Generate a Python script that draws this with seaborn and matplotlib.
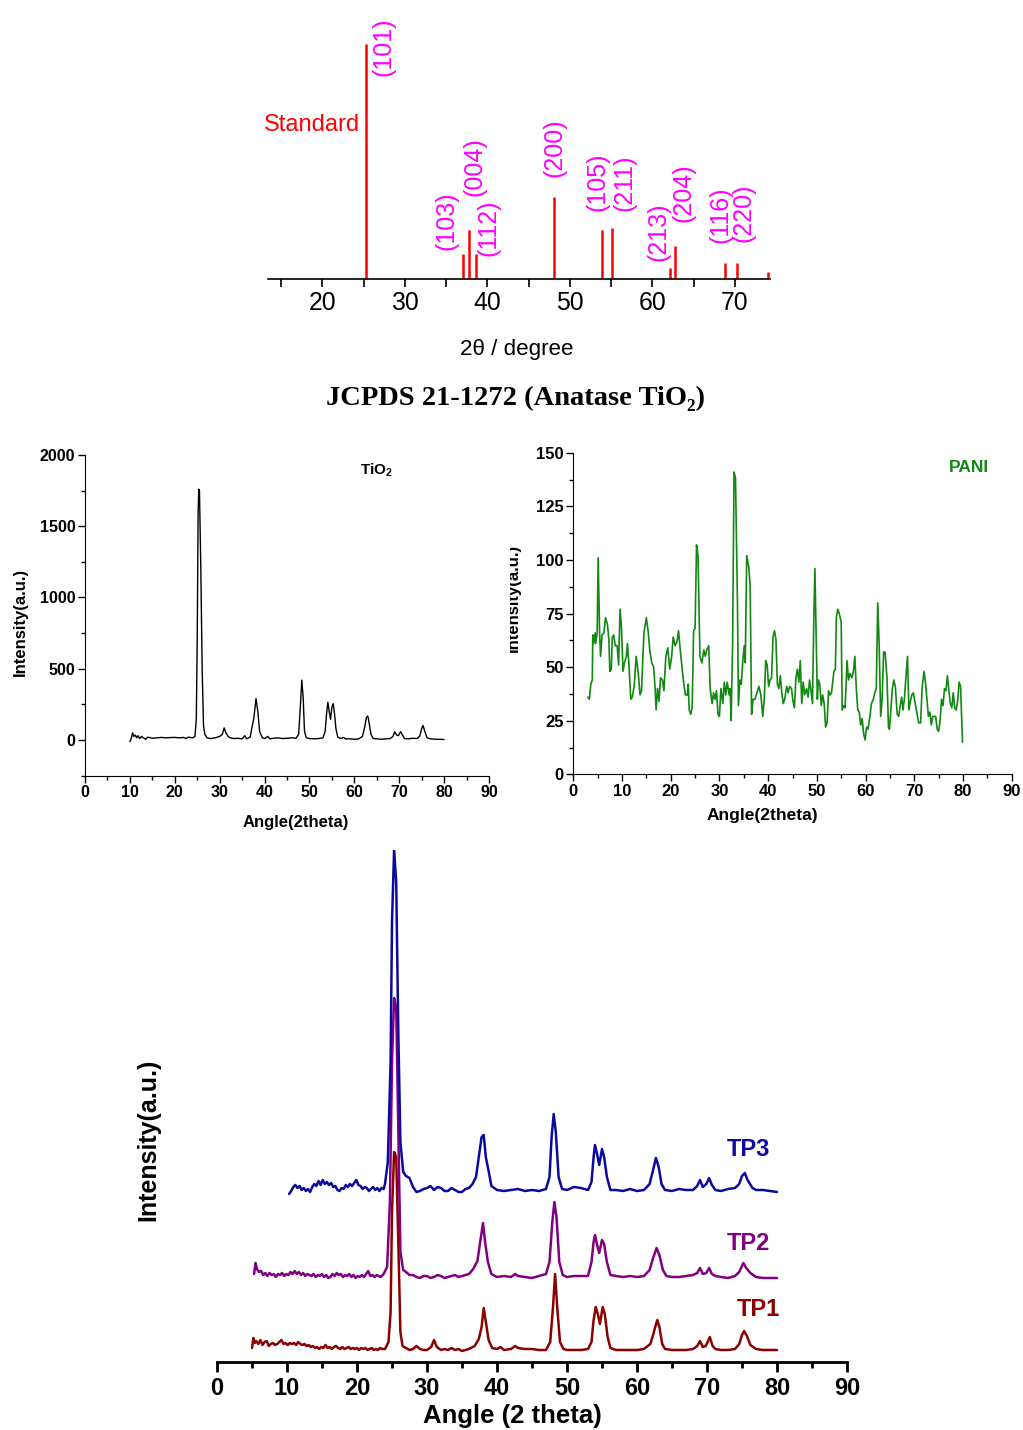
import matplotlib
matplotlib.use("Agg")
import matplotlib.pyplot as plt
import seaborn as sns
import pandas as pd
from matplotlib.ticker import MultipleLocator
from matplotlib.patches import Rectangle
from matplotlib import font_manager

# ---------------- data ----------------
std_angle = [25.3, 37.0, 37.8, 38.6, 48.05, 53.9, 55.1, 62.1, 62.7, 68.8, 70.3, 74.0]
std_int = [100, 10.6, 21, 10.5, 35, 21, 21.5, 4.7, 14, 7, 7, 3]
hkl_labels = ["(101)", "(103)", "(004)", "(112)", "(200)", "(105)", "(211)",
              "(213)", "(204)", "(116)", "(220)"]
hkl_x = [27.4, 35.1, 38.5, 40.1, 48.1, 53.4, 56.6, 60.7, 63.8, 68.3, 71.0]
hkl_y = [99, 25, 47.7, 21.7, 55.7, 41.3, 40.9, 20, 36.6, 27.2, 28.1]

tio2_points = [(10.0, -12), (10.3, 10), (10.6, 50), (10.9, 25), (11.2, 35), (11.5, 15), (11.8, 30),
               (12.2, 10), (12.6, 25), (13.0, 15), (13.5, 5), (14, 20), (15, 12), (16, 15), (17, 18),
               (18, 15), (19, 17), (20, 18), (21, 15), (22, 18), (22.5, 10), (23, 20), (24, 15),
               (24.5, 25), (24.8, 150), (25.0, 700), (25.2, 1600), (25.35, 1760), (25.5, 1750),
               (25.8, 1200), (26.1, 500), (26.4, 100), (26.7, 40), (27.2, 15), (28, 10), (29, 15),
               (30, 25), (30.6, 40), (31.0, 85), (31.4, 50), (32, 20), (33, 10), (34, 12), (35, 8),
               (35.6, 30), (36, 8), (36.8, 20), (37.2, 90), (37.6, 150), (38.1, 290), (38.5, 200),
               (38.9, 60), (39.5, 15), (40, 10), (40.7, 25), (41.2, 8), (42, 12), (43, 15), (44, 10),
               (45, 12), (46, 15), (47, 12), (47.6, 40), (48.0, 250), (48.3, 420), (48.6, 300),
               (48.9, 60), (49.3, 15), (50, 10), (51, 8), (52, 10), (53, 15), (53.5, 60), (53.8, 180),
               (54.1, 265), (54.4, 200), (54.7, 145), (55.0, 230), (55.3, 255), (55.6, 180),
               (55.9, 80), (56.3, 20), (57, 10), (57.6, 18), (58, 8), (59, 8), (60, 5), (61, 8),
               (61.8, 25), (62.3, 90), (62.7, 160), (63.0, 168), (63.3, 120), (63.7, 40), (64.2, 10),
               (65, 8), (66, 5), (67, 8), (68, 10), (68.6, 25), (69.0, 58), (69.4, 35), (69.8, 30),
               (70.3, 58), (70.7, 35), (71.2, 10), (72, 8), (73, 12), (74, 10), (74.6, 30), (75.0, 80),
               (75.3, 102), (75.7, 60), (76.2, 15), (77, 8), (78, 5), (79, 5), (80, 3)]

pani_points = [(3.0, 36), (3.3, 35), (3.6, 42), (3.9, 44), (4.0, 65), (4.2, 61), (4.5, 66), (4.6, 61),
               (4.9, 66), (5.1, 101), (5.4, 66), (5.6, 55), (5.9, 65), (6.3, 66), (6.6, 73), (7.0, 70),
               (7.3, 63), (7.5, 48), (7.8, 49), (8.0, 64), (8.3, 65), (8.6, 60), (9.0, 60), (9.3, 51),
               (9.6, 77), (9.9, 68), (10.2, 48), (10.5, 52), (10.9, 55), (11.1, 61), (11.4, 52),
               (11.8, 35), (12.1, 36), (12.5, 41), (12.9, 55), (13.3, 48), (13.7, 37), (14.0, 39),
               (14.5, 66), (15.0, 73), (15.4, 66), (15.7, 58), (16.1, 52), (16.5, 50), (16.8, 40),
               (17.0, 30), (17.3, 40), (17.6, 34), (17.9, 45), (18.3, 44), (18.6, 39), (19.0, 55),
               (19.4, 59), (19.8, 49), (20.2, 55), (20.5, 64), (20.9, 60), (21.3, 62), (21.6, 67),
               (22.0, 57), (22.4, 48), (22.7, 42), (23.0, 37), (23.4, 37), (23.6, 42), (23.8, 30),
               (24.1, 28), (24.4, 31), (24.7, 67), (25.0, 68), (25.3, 107), (25.6, 102), (26.0, 55),
               (26.4, 52), (26.8, 58), (27.1, 55), (27.4, 58), (27.8, 60), (28.1, 40), (28.5, 33),
               (28.8, 38), (29.1, 35), (29.4, 39), (29.7, 28), (30.0, 27), (30.3, 40), (30.7, 33),
               (31.0, 43), (31.3, 37), (31.6, 43), (32.0, 37), (32.2, 40), (32.4, 25), (32.7, 60),
               (33.0, 141), (33.3, 138), (33.7, 80), (33.9, 32), (34.2, 44), (34.5, 42), (34.8, 53),
               (35.1, 60), (35.3, 52), (35.6, 102), (36.0, 97), (36.3, 88), (36.6, 28), (36.9, 35),
               (37.3, 35), (37.7, 38), (38.1, 41), (38.5, 37), (38.9, 27), (39.2, 35), (39.5, 53),
               (39.8, 51), (40.1, 41), (40.4, 44), (40.7, 45), (41.0, 64), (41.3, 67), (41.6, 63),
               (41.9, 42), (42.2, 40), (42.5, 46), (42.8, 38), (43.1, 33), (43.4, 35), (43.8, 41),
               (44.1, 38), (44.4, 41), (44.8, 40), (45.1, 34), (45.4, 31), (45.7, 45), (46.0, 49),
               (46.3, 43), (46.6, 53), (46.9, 33), (47.2, 43), (47.5, 37), (47.9, 40), (48.2, 36),
               (48.5, 44), (48.8, 39), (49.1, 33), (49.4, 75), (49.6, 96), (49.9, 60), (50.1, 35),
               (50.3, 44), (50.6, 42), (50.9, 32), (51.2, 37), (51.5, 33), (51.8, 22), (52.1, 24),
               (52.4, 39), (52.7, 37), (53.0, 38), (53.5, 48), (53.8, 49), (54.0, 73), (54.3, 77),
               (54.6, 75), (55.0, 71), (55.2, 30), (55.5, 32), (55.8, 31), (56.2, 53), (56.5, 44),
               (56.8, 47), (57.2, 45), (57.5, 48), (57.8, 55), (58.1, 40), (58.4, 30), (58.7, 29),
               (59.0, 23), (59.3, 26), (59.6, 19), (59.9, 16), (60.2, 22), (60.5, 21), (60.9, 27),
               (61.2, 33), (61.6, 35), (61.9, 38), (62.2, 40), (62.5, 80), (62.8, 60), (63.1, 27),
               (63.4, 35), (63.7, 57), (64.0, 57), (64.4, 45), (64.7, 22), (64.9, 21), (65.2, 30),
               (65.5, 40), (65.8, 44), (66.1, 41), (66.5, 28), (66.8, 27), (67.1, 32), (67.4, 36),
               (67.7, 30), (68.0, 36), (68.3, 46), (68.6, 55), (68.9, 30), (69.2, 34), (69.5, 37),
               (69.8, 38), (70.2, 33), (70.6, 28), (70.9, 24), (71.3, 24), (71.6, 40), (72.0, 48),
               (72.3, 43), (72.6, 35), (72.9, 27), (73.2, 29), (73.5, 23), (73.8, 27), (74.1, 27),
               (74.4, 27), (74.7, 21), (75.0, 20), (75.3, 25), (75.6, 35), (75.9, 32), (76.2, 40),
               (76.5, 39), (76.8, 46), (77.1, 39), (77.4, 33), (77.7, 31), (78.0, 38), (78.3, 31),
               (78.6, 30), (78.9, 34), (79.2, 43), (79.5, 41), (79.9, 15)]

tp1_points = [(5.0, 14), (5.2, 24), (5.4, 19), (5.6, 21), (5.9, 18), (6.2, 22), (6.5, 17), (6.8, 20),
              (7.1, 21), (7.4, 16), (7.7, 18), (8.0, 19), (8.3, 17), (8.6, 18), (8.9, 20), (9.2, 22),
              (9.5, 18), (9.8, 19), (10.1, 17), (10.4, 19), (10.7, 18), (11.0, 19), (11.3, 17),
              (11.6, 20), (11.9, 18), (12.2, 17), (12.5, 18), (12.8, 16), (13.1, 17), (13.4, 15),
              (13.7, 16), (14.0, 14), (14.3, 15), (14.6, 13), (14.9, 15), (15.2, 14), (15.5, 17),
              (15.8, 14), (16.1, 15), (16.4, 13), (16.7, 15), (17.0, 16), (17.3, 14), (17.6, 13),
              (17.9, 15), (18.2, 13), (18.5, 14), (18.8, 15), (19.1, 13), (19.4, 14), (19.7, 13),
              (20.0, 14), (20.3, 12), (20.6, 14), (20.9, 13), (21.2, 14), (21.5, 12), (21.8, 13),
              (22.1, 14), (22.4, 12), (22.7, 13), (23.0, 12), (23.3, 14), (23.6, 13), (24.0, 13),
              (24.5, 20), (24.8, 50), (25.0, 150), (25.3, 210),
              (25.6, 205), (25.9, 120), (26.2, 30), (26.5, 16), (27, 14), (27.5, 12), (28, 13),
              (28.5, 16), (29, 13), (29.5, 12), (30, 12), (30.6, 15), (31.0, 22), (31.4, 15), (32, 12),
              (32.5, 13), (33, 12), (33.5, 14), (34, 12), (34.5, 13), (35, 11), (35.5, 12), (36, 13),
              (36.8, 16), (37.4, 23), (37.8, 35), (38.1, 54), (38.4, 40),
              (38.8, 22), (39.3, 14), (40, 13), (40.5, 15), (41, 12), (42, 13), (42.6, 16), (43, 14),
              (44, 13), (45, 13), (46, 12), (47, 12), (47.6, 20), (48.0, 55), (48.3, 88), (48.6, 55),
              (49.0, 20), (49.5, 13), (50, 12), (51, 12), (52, 12), (53, 13), (53.5, 20), (53.8, 42),
              (54.1, 55), (54.4, 48), (54.7, 38), (55.1, 55), (55.4, 48), (55.8, 25), (56.2, 14),
              (57, 12), (58, 12), (59, 12), (60, 12), (61, 13), (61.9, 18), (62.3, 27), (62.6, 35),
              (62.9, 42), (63.2, 35), (63.6, 18), (64, 13), (65, 12), (66, 12), (67, 12), (68, 13),
              (68.6, 16), (69.0, 21), (69.4, 15), (69.8, 16), (70.1, 20), (70.4, 25), (70.8, 16),
              (71.2, 13), (72, 12), (73, 12), (74, 13), (74.6, 18), (75.0, 27), (75.3, 31),
              (75.7, 26), (76.2, 17), (77, 13), (78, 12), (79, 12), (80, 12)]

tp2_points = [(5.3, 88), (5.5, 99), (5.7, 93), (6.0, 90), (6.3, 91), (6.6, 87), (6.9, 89), (7.2, 86),
              (7.5, 89), (7.8, 87), (8.1, 88), (8.4, 85), (8.7, 88), (9.0, 87), (9.3, 89), (9.6, 86),
              (9.9, 88), (10.2, 87), (10.5, 90), (10.8, 88), (11.1, 91), (11.4, 88), (11.7, 90),
              (12.0, 87), (12.3, 89), (12.6, 86), (12.9, 88), (13.2, 87), (13.5, 86), (13.8, 88),
              (14.1, 85), (14.4, 87), (14.7, 86), (15.0, 88), (15.3, 85), (15.6, 87), (15.9, 84),
              (16.2, 85), (16.5, 88), (16.8, 86), (17.1, 89), (17.4, 87), (17.7, 88), (18.0, 85),
              (18.3, 87), (18.6, 86), (18.9, 88), (19.2, 85), (19.5, 87), (19.8, 84), (20.1, 86),
              (20.4, 85), (20.7, 87), (21.0, 85), (21.3, 88), (21.6, 91), (21.9, 86), (22.2, 87),
              (22.5, 85), (22.8, 87), (23.1, 86), (23.4, 85), (23.8, 88),
              (24.3, 95), (24.7, 160), (25.0, 300), (25.3, 364), (25.6, 355), (25.9, 230),
              (26.2, 110), (26.6, 92), (27, 90), (27.5, 87), (28, 87), (28.5, 85), (29, 84),
              (29.5, 86), (30, 86), (30.5, 84), (31, 85), (31.5, 87), (32, 86), (32.5, 84), (33, 85),
              (33.5, 86), (34, 87), (34.5, 85), (35, 86), (35.5, 87), (36, 88), (36.6, 93), (37.2, 101),
              (37.7, 125), (38.0, 139),
              (38.3, 120), (38.7, 100), (39.2, 88), (40, 85), (41, 86), (42, 85), (42.6, 88), (43, 86),
              (44, 85), (45, 84), (46, 86), (47, 88), (47.5, 100), (47.9, 140), (48.2, 160),
              (48.5, 145), (48.9, 100), (49.4, 87), (50, 85), (51, 86), (52, 86), (53, 86),
              (53.5, 100), (53.8, 120), (54.0, 127), (54.3, 117), (54.6, 109), (55.0, 122),
              (55.3, 118), (55.7, 100), (56.2, 87), (57, 86), (58, 85), (59, 86), (60, 85), (61, 86),
              (61.8, 92), (62.3, 104), (62.8, 114), (63.2, 107), (63.7, 92), (64.2, 86), (65, 85),
              (66, 85), (67, 86), (68, 87), (68.6, 89), (69.0, 94), (69.4, 88), (69.9, 89), (70.3, 94),
              (70.7, 88), (71.2, 86), (72, 85), (73, 84), (74, 86), (74.6, 90), (75.2, 99), (75.6, 94),
              (76.2, 89), (77, 85), (78, 84), (79, 84), (80, 84)]

tp3_points = [(10.3, 168), (10.6, 171), (10.9, 175), (11.2, 177), (11.5, 174), (11.8, 176), (12.1, 172),
              (12.4, 174), (12.7, 171), (13.0, 173), (13.3, 170), (13.6, 175), (13.9, 178),
              (14.2, 176), (14.5, 181), (14.8, 177), (15.1, 182), (15.4, 178), (15.7, 180),
              (16.0, 177), (16.3, 179), (16.6, 175), (16.9, 176), (17.2, 172), (17.5, 171),
              (17.8, 174), (18.1, 173), (18.4, 177), (18.7, 175), (19.0, 178), (19.3, 176),
              (19.6, 179), (19.9, 182), (20.2, 177), (20.5, 176), (20.8, 173), (21.1, 175),
              (21.4, 174), (21.7, 171), (22.0, 173), (22.3, 175), (22.6, 172), (22.9, 174),
              (23.2, 171), (23.5, 174), (23.8, 173), (24.0, 178),
              (24.4, 200), (24.8, 300), (25.0, 440), (25.3, 512), (25.6, 480),
              (25.9, 330), (26.2, 220), (26.6, 190), (27.0, 186), (27.5, 184), (28.0, 175),
              (28.5, 170), (29, 171), (29.5, 173), (30, 174), (30.5, 176), (31, 172), (31.5, 175),
              (32, 174), (32.5, 171), (33, 171), (33.5, 174), (34, 172), (34.5, 170), (35, 170),
              (35.5, 173), (36, 174), (36.5, 178), (37.0, 185), (37.5, 210), (37.8, 225),
              (38.1, 227), (38.4, 205), (38.8, 191), (39.2, 176), (40, 172), (41, 171), (42, 172),
              (43, 173), (44, 171), (45, 172), (46, 171), (47, 173), (47.5, 185), (47.8, 225),
              (48.1, 248), (48.4, 230), (48.8, 185), (49.3, 173), (50, 172), (51, 175), (52, 174),
              (53, 172), (53.5, 180), (53.8, 205), (54.0, 217), (54.3, 208), (54.6, 197), (55.0, 213),
              (55.3, 205), (55.7, 185), (56.2, 172), (57, 172), (58, 171), (59, 173), (60, 171),
              (61, 172), (61.8, 178), (62.3, 192), (62.7, 204), (63.1, 195), (63.5, 178), (64, 172),
              (65, 171), (66, 173), (67, 172), (68, 172), (68.6, 176), (69.0, 182), (69.4, 175),
              (69.9, 178), (70.3, 184), (70.7, 177), (71.2, 172), (72, 171), (73, 173), (74, 174),
              (74.6, 178), (75.0, 186), (75.4, 189), (75.8, 182), (76.5, 174), (77, 172), (78, 172),
              (79, 171), (80, 170)]

series_names = ["TP1", "TP2", "TP3"]
series_colors = ["#8B0000", "#800080", "#0A0AA0"]

# ---------------- style ----------------
sns.set_style("ticks")
plt.rcParams["font.family"] = ["Liberation Sans", "DejaVu Sans"]
plt.rcParams["font.weight"] = "bold"
plt.rcParams["text.color"] = "black"
plt.rcParams["axes.labelcolor"] = "black"
plt.rcParams["xtick.color"] = "black"
plt.rcParams["ytick.color"] = "black"
plt.rcParams["axes.edgecolor"] = "black"
plt.rcParams["mathtext.fontset"] = "custom"
plt.rcParams["mathtext.rm"] = "Liberation Sans"
plt.rcParams["mathtext.bf"] = "Liberation Sans:bold"

names = {f.name for f in font_manager.fontManager.ttflist}
narrow = "Liberation Sans Narrow" if "Liberation Sans Narrow" in names else "Liberation Sans"
narrow_scale = 1.0 if narrow == "Liberation Sans Narrow" else 0.85

W, H = 1023, 1430
fig = plt.figure(figsize=(W / 100, H / 100), dpi=100)
fig.patch.set_facecolor("white")


def rect(l, t, r, b):
    return [l / W, 1 - b / H, (r - l) / W, (b - t) / H]


def fx(px):
    return px / W


def fy(py):
    return 1 - py / H


def to_df(points):
    return pd.DataFrame(points, columns=["angle", "intensity"])


# ---------------- top: standard sticks ----------------
ax0 = fig.add_axes(rect(268, 44, 770, 279))
ax0.set_facecolor("none")
ax0.vlines(std_angle, 0, std_int, color="#FF0000", lw=1.8)
ax0.set_xlim(13.42, 74.27)
ax0.set_ylim(0, 100)
for s in ["left", "top", "right"]:
    ax0.spines[s].set_visible(False)
ax0.spines["bottom"].set_linewidth(1.2)
ax0.set_yticks([])
ax0.xaxis.set_minor_locator(MultipleLocator(5))
ax0.tick_params(axis="x", which="both", direction="out", length=6, width=1.2, pad=3)
ax0.set_xticks([20, 30, 40, 50, 60, 70])
ax0.set_xticklabels(["20", "30", "40", "50", "60", "70"], fontsize=21 * narrow_scale,
                    fontweight="normal", family=narrow)
for lab, xx, yy in zip(hkl_labels, hkl_x, hkl_y):
    ax0.text(xx, yy, lab, rotation=90, ha="center", va="center", color="#FF00FF",
             fontsize=18, fontweight="normal", family="Liberation Sans", clip_on=False)
fig.text(fx(312), fy(125), "Standard", color="#FF0000", fontsize=20 * narrow_scale,
         fontweight="normal", family=narrow, ha="center", va="center")
fig.text(fx(517), fy(350), "2θ / degree", fontsize=19 * narrow_scale, fontweight="normal",
         family=[narrow, "DejaVu Sans"], ha="center", va="center")
fig.text(fx(516), fy(398), "JCPDS 21-1272 (Anatase TiO₂)", fontsize=20.5, fontweight="bold",
         family=["Liberation Serif", "DejaVu Serif"], ha="center", va="center", color="black")

# ---------------- middle left: TiO2 ----------------
ax1 = fig.add_axes(rect(85, 455, 489, 775.6))
sns.lineplot(data=to_df(tio2_points), x="angle", y="intensity", ax=ax1, color="black",
             lw=1.0, estimator=None, sort=False)
ax1.set_xlim(0, 90)
ax1.set_ylim(-250, 2000)
ax1.xaxis.set_major_locator(MultipleLocator(10))
ax1.xaxis.set_minor_locator(MultipleLocator(5))
ax1.yaxis.set_major_locator(MultipleLocator(500))
ax1.yaxis.set_minor_locator(MultipleLocator(250))
ax1.tick_params(which="both", direction="out", width=1, labelsize=11.5, pad=2)
ax1.tick_params(which="major", length=5)
ax1.tick_params(which="minor", length=3)
sns.despine(ax=ax1)
ax1.set_xlabel("")
ax1.set_ylabel("")
fig.text(fx(296), fy(823), "Angle(2theta)", fontsize=12, ha="center", va="center")
fig.text(fx(20), fy(622), "Intensity(a.u.)", fontsize=12, rotation=90, ha="center", va="center")
fig.text(fx(377), fy(470), r"$\mathbf{TiO_2}$", fontsize=11, ha="center", va="center")

# ---------------- middle right: PANI ----------------
ax2 = fig.add_axes(rect(573.3, 452.7, 1011.7, 774.3))
sns.lineplot(data=to_df(pani_points), x="angle", y="intensity", ax=ax2, color="#118811",
             lw=1.2, estimator=None, sort=False)
ax2.set_xlim(0, 90)
ax2.set_ylim(0, 150)
ax2.xaxis.set_major_locator(MultipleLocator(10))
ax2.xaxis.set_minor_locator(MultipleLocator(5))
ax2.yaxis.set_major_locator(MultipleLocator(25))
ax2.yaxis.set_minor_locator(MultipleLocator(12.5))
ax2.tick_params(which="both", direction="out", width=1, labelsize=12, pad=2)
ax2.tick_params(which="major", length=5)
ax2.tick_params(which="minor", length=3)
sns.despine(ax=ax2)
ax2.set_xlabel("")
ax2.set_ylabel("")
fig.text(fx(762), fy(816), "Angle(2theta)", fontsize=12.5, ha="center", va="center")
fig.text(fx(969), fy(468), "PANI", fontsize=12.5, color="#118811", ha="center", va="center")
fig.text(fx(513), fy(598), "Intensity(a.u.)", fontsize=12, rotation=90,
         ha="center", va="center", zorder=3)
# the reference crops this label at the panel's left edge
fig.add_artist(Rectangle((fx(494), fy(680)), (510 - 494) / W, (680 - 520) / H,
                         transform=fig.transFigure, facecolor="white", edgecolor="none",
                         zorder=10))

# ---------------- bottom: TP1-TP3 ----------------
ax3 = fig.add_axes(rect(217, 850, 847, 1362))
ax3.set_facecolor("none")
for pts, name, col in zip([tp1_points, tp2_points, tp3_points], series_names, series_colors):
    sns.lineplot(data=to_df(pts), x="angle", y="intensity", ax=ax3, color=col, lw=1.8,
                 estimator=None, sort=False)
ax3.set_xlim(0, 90)
ax3.set_ylim(0, 512)
for s in ["left", "top", "right"]:
    ax3.spines[s].set_visible(False)
ax3.spines["bottom"].set_linewidth(2)
ax3.set_yticks([])
ax3.xaxis.set_major_locator(MultipleLocator(10))
ax3.xaxis.set_minor_locator(MultipleLocator(5))
ax3.tick_params(axis="x", which="both", direction="out", width=2, labelsize=17, pad=4)
ax3.tick_params(axis="x", which="major", length=7)
ax3.tick_params(axis="x", which="minor", length=4)
ax3.set_xlabel("")
ax3.set_ylabel("")
label_pos = [(758, 1310), (748, 1243), (748, 1150)]
for (px, py), name, col in zip(label_pos, series_names, series_colors):
    fig.text(fx(px), fy(py), name, color=col, fontsize=17, ha="center", va="center")
fig.text(fx(512), fy(1416), "Angle (2 theta)", fontsize=18.5, ha="center", va="center")
fig.text(fx(148), fy(1140), "Intensity(a.u.)", fontsize=18, rotation=90, ha="center", va="center")

fig.savefig("out.png", dpi=100, facecolor="white")
